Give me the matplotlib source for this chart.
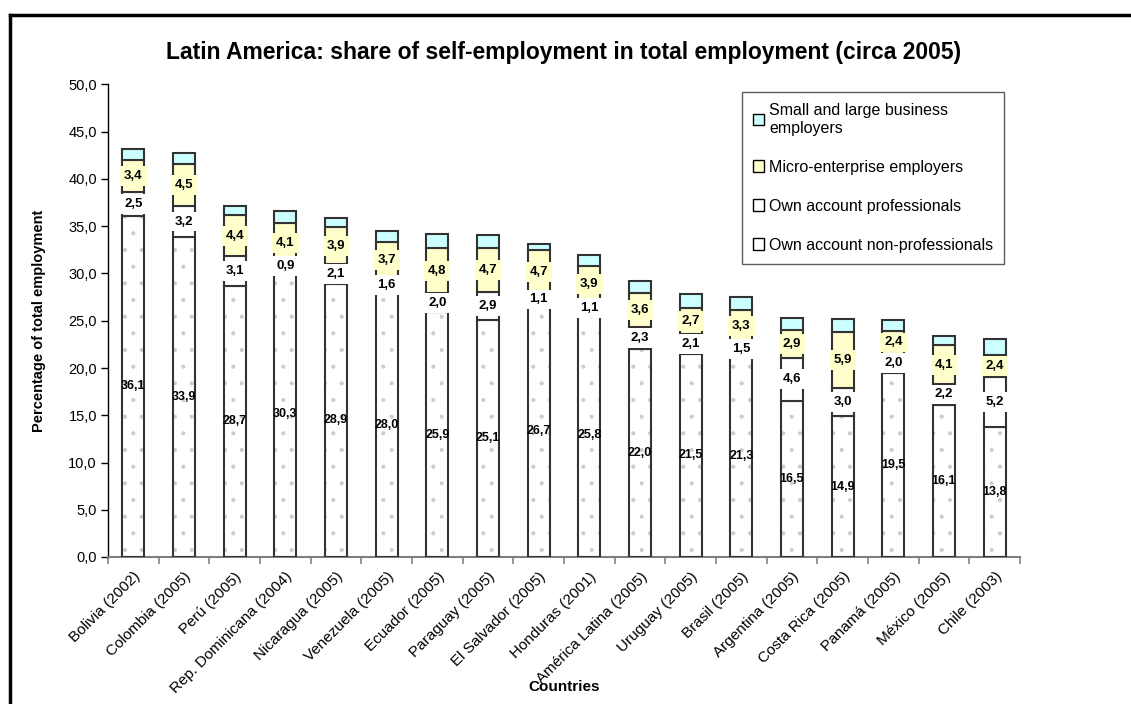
import numpy as np
import matplotlib
matplotlib.use("Agg")
import matplotlib.pyplot as plt
from matplotlib.patches import Patch
from matplotlib.lines import Line2D

plt.rcParams['font.family'] = ['Liberation Sans', 'DejaVu Sans']
plt.rcParams['hatch.linewidth'] = 0.5

# data
countries = ['Bolivia (2002)', 'Colombia (2005)', 'Perú (2005)', 'Rep. Dominicana (2004)',
             'Nicaragua (2005)', 'Venezuela (2005)', 'Ecuador (2005)', 'Paraguay (2005)',
             'El Salvador (2005)', 'Honduras (2001)', 'América Latina (2005)', 'Uruguay (2005)',
             'Brasil (2005)', 'Argentina (2005)', 'Costa Rica (2005)', 'Panamá (2005)',
             'México (2005)', 'Chile (2003)']
non_prof = [36.1, 33.9, 28.7, 30.3, 28.9, 28.0, 25.9, 25.1, 26.7, 25.8, 22.0, 21.5, 21.3, 16.5, 14.9, 19.5, 16.1, 13.8]
prof = [2.5, 3.2, 3.1, 0.9, 2.1, 1.6, 2.0, 2.9, 1.1, 1.1, 2.3, 2.1, 1.5, 4.6, 3.0, 2.0, 2.2, 5.2]
micro = [3.4, 4.5, 4.4, 4.1, 3.9, 3.7, 4.8, 4.7, 4.7, 3.9, 3.6, 2.7, 3.3, 2.9, 5.9, 2.4, 4.1, 2.4]
business = [1.2, 1.1, 0.9, 1.3, 1.0, 1.2, 1.5, 1.4, 0.6, 1.2, 1.3, 1.5, 1.4, 1.3, 1.4, 1.2, 1.0, 1.7]

non_prof = np.array(non_prof)
prof = np.array(prof)
micro = np.array(micro)
business = np.array(business)

W, H = 1131, 704
fig = plt.figure(figsize=(W / 100, H / 100), dpi=100)
ax = fig.add_axes([108 / W, (H - 557) / H, 912 / W, 472.5 / H])

x = np.arange(len(countries))
bw = 0.43
edge = '#333333'

# dotted fill first (light grey dots), then the outlines on top
ax.bar(x, non_prof, bw, color='white', edgecolor='#cccccc', linewidth=0, hatch='.', zorder=2)
ax.bar(x, non_prof, bw, fill=False, edgecolor=edge, linewidth=1.5, zorder=3)
ax.bar(x, prof, bw, bottom=non_prof, color='white', edgecolor=edge, linewidth=1.5, zorder=3)
ax.bar(x, micro, bw, bottom=non_prof + prof, color='#ffffcc', edgecolor=edge, linewidth=1.5, zorder=3)
ax.bar(x, business, bw, bottom=non_prof + prof + micro, color='#ccffff', edgecolor=edge, linewidth=1.5, zorder=3)

def fmt(v):
    return ('%.1f' % v).replace('.', ',')

for i in range(len(x)):
    ax.text(x[i], non_prof[i] / 2, fmt(non_prof[i]), ha='center', va='center',
            fontsize=9, fontweight='bold', zorder=5)
    ax.text(x[i], non_prof[i] + prof[i] / 2, fmt(prof[i]), ha='center', va='center',
            fontsize=9.5, fontweight='bold', zorder=5,
            bbox=dict(boxstyle='square,pad=0.3', fc='white', ec='none'))
    ax.text(x[i], non_prof[i] + prof[i] + micro[i] / 2, fmt(micro[i]), ha='center', va='center',
            fontsize=9.5, fontweight='bold', zorder=5,
            bbox=dict(boxstyle='square,pad=0.3', fc='#ffffcc', ec='none'))

ax.set_xlim(-0.5, len(x) - 0.5)
ax.set_ylim(0, 50)
ax.set_yticks(np.arange(0, 50.1, 5))
ax.set_yticklabels([fmt(v) for v in np.arange(0, 50.1, 5)], fontsize=10.5)
ax.set_xticks(x)
ax.set_xticklabels(countries, rotation=45, ha='right', rotation_mode='anchor', fontsize=11)
ax.set_xticks(np.arange(-0.5, len(x)), minor=True)
ax.tick_params(axis='x', which='major', length=0, pad=9)
ax.tick_params(axis='x', which='minor', length=5, color='#808080', width=1.2)
ax.tick_params(axis='y', length=5, width=1, pad=3)

ax.spines['top'].set_visible(False)
ax.spines['right'].set_visible(False)
ax.spines['bottom'].set_color('#808080')
ax.spines['bottom'].set_linewidth(1.5)
ax.spines['left'].set_linewidth(1)

ax.set_title('Latin America: share of self-employment in total employment (circa 2005)',
             fontsize=16.5, fontweight='bold', pad=18)
ax.set_ylabel('Percentage of total employment', fontsize=10.5, fontweight='bold', labelpad=16)
ax.set_xlabel('Countries', fontsize=11, fontweight='bold', labelpad=-12)

handles = [Patch(fc='#ccffff', ec='black', lw=1), Patch(fc='#ffffcc', ec='black', lw=1),
           Patch(fc='white', ec='black', lw=1), Patch(fc='white', ec='black', lw=1)]
labels = ['Small and large business\nemployers', 'Micro-enterprise employers',
          'Own account professionals', 'Own account non-professionals']
leg = ax.legend(handles, labels, loc='upper left', bbox_to_anchor=(0.695, 0.984),
                fontsize=11.5, frameon=True, fancybox=False, labelspacing=1.5,
                handlelength=0.7, handleheight=0.7, handletextpad=0.3, borderpad=0.7,
                borderaxespad=0)
leg.get_frame().set_edgecolor('#333333')
leg.get_frame().set_linewidth(1)

# outer chart border (top and left)
fig.add_artist(Line2D([10 / W, 1], [1 - 15 / H, 1 - 15 / H], color='black', lw=2.5))
fig.add_artist(Line2D([10 / W, 10 / W], [0, 1 - 15 / H], color='black', lw=2.5))

fig.savefig('out.png', dpi=100)
